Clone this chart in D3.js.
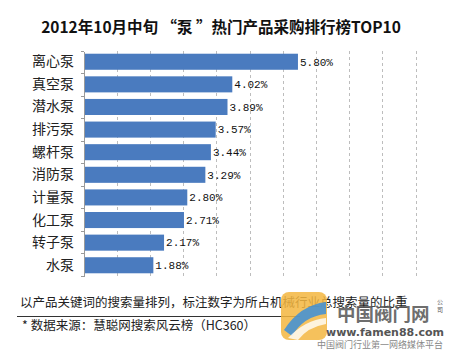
<!DOCTYPE html>
<html><head><meta charset="utf-8">
<script src="https://cdn.jsdelivr.net/npm/d3@7/dist/d3.min.js"></script>
<style>html,body{margin:0;padding:0;background:#fff;}svg{display:block;}</style>
</head><body>
<script>
const titleText = "2012年10月中旬 “泵 ”热门产品采购排行榜TOP10";
const categories = ["离心泵","真空泵","潜水泵","排污泵","螺杆泵","消防泵","计量泵","化工泵","转子泵","水泵"];
const values = [5.80,4.02,3.89,3.57,3.44,3.29,2.80,2.71,2.17,1.88];
const gridTicks = [0.9,1.8,2.7,3.6,4.5,5.4,6.3,7.2,8.1,9.0];
const noteText = "以产品关键词的搜索量排列，标注数字为所占机械行业总搜索量的比重";
const sourceText = "* 数据来源：慧聪网搜索风云榜（HC360）";

const W = 450, H = 350;
const svg = d3.select("body").append("svg").attr("width", W).attr("height", H);
svg.append("rect").attr("width", W).attr("height", H).attr("fill", "#fff");

const x = d3.scaleLinear().domain([0, 9]).range([84, 416]);
const y = d3.scaleBand().domain(categories).range([51, 276]).paddingInner(0.29).paddingOuter(0.12);

// title
svg.append("text").attr("x", 221).attr("y", 33).attr("text-anchor", "middle")
  .attr("font-family", "'Noto Sans CJK SC', sans-serif").attr("font-weight", "bold")
  .attr("font-size", 15.5).attr("fill", "#111").text(titleText);

// gridlines
svg.append("g").selectAll("line").data(gridTicks).join("line")
  .attr("x1", d => x(d)).attr("x2", d => x(d)).attr("y1", 51).attr("y2", 276)
  .attr("stroke", "#bdbdbd").attr("stroke-width", 1).attr("stroke-dasharray", "3,3")
  .attr("shape-rendering", "crispEdges");

// bars
svg.append("g").selectAll("rect").data(values).join("rect")
  .attr("x", x(0)).attr("y", (d, i) => y(categories[i]))
  .attr("width", d => x(d) - x(0)).attr("height", y.bandwidth())
  .attr("fill", "#4a7bbf");

// y axis
const yAxis = d3.axisLeft(y).tickSize(0).tickPadding(10);
const ga = svg.append("g").attr("transform", `translate(${x(0)},0)`).call(yAxis);
ga.select(".domain").attr("stroke", "#9a9a9a").attr("shape-rendering", "crispEdges");
ga.selectAll("text").attr("font-family", "'Noto Sans CJK SC', sans-serif")
  .attr("font-size", 14).attr("fill", "#222");
// boundary tick marks
const bounds = d3.range(categories.length + 1).map(i => 51 + i * (225 / categories.length));
svg.append("g").selectAll("line").data(bounds).join("line")
  .attr("x1", x(0) - 3).attr("x2", x(0)).attr("y1", d => d).attr("y2", d => d)
  .attr("stroke", "#9a9a9a").attr("shape-rendering", "crispEdges");

// value labels
svg.append("g").selectAll("text").data(values).join("text")
  .attr("x", d => x(d) + 2).attr("y", (d, i) => y(categories[i]) + y.bandwidth() / 2)
  .attr("dy", "0.35em").attr("font-family", "'Liberation Mono', monospace")
  .attr("font-size", 11).attr("fill", "#111").text(d => d.toFixed(2) + "%");

// footer
svg.append("text").attr("x", 20).attr("y", 307)
  .attr("font-family", "'Noto Sans CJK SC', sans-serif").attr("font-size", 12.5).attr("fill", "#222")
  .text(noteText);
svg.append("line").attr("x1", 17).attr("x2", 300).attr("y1", 316.5).attr("y2", 316.5)
  .attr("stroke", "#333").attr("stroke-width", 1);
svg.append("text").attr("x", 22).attr("y", 330)
  .attr("font-family", "'Noto Sans CJK SC', sans-serif").attr("font-size", 12.5).attr("fill", "#222")
  .text(sourceText);

// watermark
const wm = svg.append("g");
wm.append("rect").attr("x", 281).attr("y", 292).attr("width", 46).attr("height", 48).attr("rx", 8)
  .attr("fill", "#f3b640").attr("opacity", 0.85);
wm.append("path").attr("d", "M284,330 Q300,305 326,302 L326,314 Q304,316 292,336 Z")
  .attr("fill", "#3d8fd8").attr("opacity", 0.85);
wm.append("path").attr("d", "M288,338 Q305,320 326,318 L326,324 Q308,327 298,340 Z")
  .attr("fill", "#ffffff").attr("opacity", 0.8);
wm.append("text").attr("x", 337).attr("y", 321)
  .attr("font-family", "'Noto Sans CJK SC', sans-serif").attr("font-weight", "bold")
  .attr("font-size", 18.5).attr("fill", "#555").attr("opacity", 0.85).text("中国阀门网");
wm.append("text").attr("x", 440).attr("y", 304).attr("text-anchor", "middle")
  .attr("font-family", "'Noto Sans CJK SC', sans-serif").attr("font-size", 6).attr("fill", "#555").text("公");
wm.append("text").attr("x", 440).attr("y", 312).attr("text-anchor", "middle")
  .attr("font-family", "'Noto Sans CJK SC', sans-serif").attr("font-size", 6).attr("fill", "#555").text("司");
wm.append("text").attr("x", 385).attr("y", 335.5).attr("text-anchor", "middle")
  .attr("font-family", "'DejaVu Sans', sans-serif").attr("font-weight", "bold")
  .attr("font-size", 11).attr("fill", "#555").text("www.famen88.com");
wm.append("text").attr("x", 380).attr("y", 347.5).attr("text-anchor", "middle")
  .attr("font-family", "'Noto Sans CJK SC', sans-serif")
  .attr("font-size", 9).attr("fill", "#888").text("中国阀门行业第一网络媒体平台");
</script>
</body></html>
